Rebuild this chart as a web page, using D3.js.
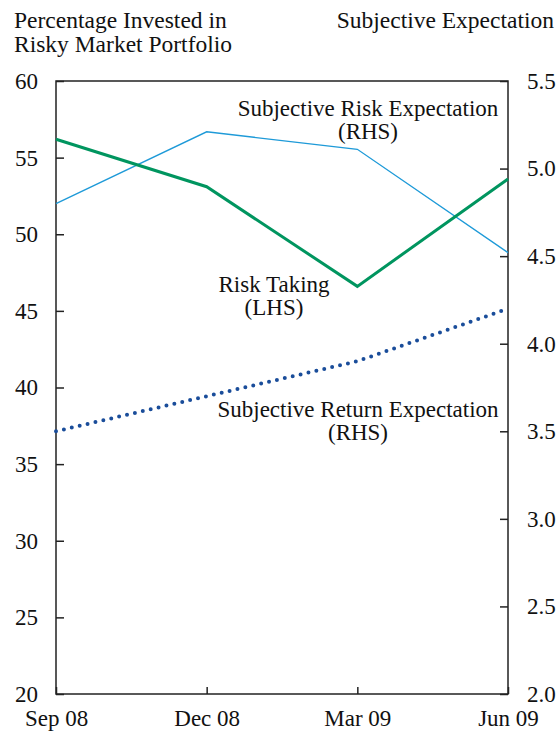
<!DOCTYPE html>
<html>
<head>
<meta charset="utf-8">
<script src="https://cdn.jsdelivr.net/npm/d3@7"></script>
<style>
  body { margin: 0; background: #fff; }
  text { font-family: "Liberation Serif", "Times New Roman", serif; fill: #111; }
</style>
</head>
<body>
<div id="viz-container"></div>
<script>
var margin = {top: 81, right: 48, bottom: 38, left: 56},
    width = 556 - margin.left - margin.right,
    height = 732 - margin.top - margin.bottom;

var quarters = ["Sep 08", "Dec 08", "Mar 09", "Jun 09"];
var riskTaking = [56.2, 53.1, 46.6, 53.6];          // LHS
var riskExpectation = [4.80, 5.21, 5.11, 4.52];     // RHS
var returnExpectation = [3.50, 3.70, 3.90, 4.20];   // RHS
var leftTicks = [20, 25, 30, 35, 40, 45, 50, 55, 60];
var rightTicks = [2.0, 2.5, 3.0, 3.5, 4.0, 4.5, 5.0, 5.5];

var fontSize = 23;
var titleSize = 23.5;

var xScale = d3.scalePoint()
    .domain(quarters)
    .range([0, width]);
var yLeft = d3.scaleLinear()
    .domain([20, 60])
    .range([height, 0]);
var yRight = d3.scaleLinear()
    .domain([2, 5.5])
    .range([height, 0]);

var svg = d3.select("#viz-container")
  .append("svg")
    .attr("width", width + margin.left + margin.right)
    .attr("height", height + margin.top + margin.bottom)
  .append("g")
    .attr("transform", "translate(" + margin.left + "," + margin.top + ")");

// axis titles
svg.append("text")
    .attr("x", 14 - margin.left)
    .attr("y", 28 - margin.top)
    .style("font-size", titleSize + "px")
    .text("Percentage Invested in");
svg.append("text")
    .attr("x", 14 - margin.left)
    .attr("y", 52 - margin.top)
    .style("font-size", titleSize + "px")
    .text("Risky Market Portfolio");
svg.append("text")
    .attr("x", 554 - margin.left)
    .attr("y", 28 - margin.top)
    .attr("text-anchor", "end")
    .style("font-size", titleSize + "px")
    .text("Subjective Expectation");

// frame
svg.append("rect")
    .attr("width", width)
    .attr("height", height)
    .attr("fill", "none")
    .attr("stroke", "#222")
    .attr("stroke-width", 1.5);

var leftAxis = svg.append("g")
    .call(d3.axisLeft(yLeft).tickValues(leftTicks).tickSizeInner(-8).tickSizeOuter(0).tickPadding(18));
var rightAxis = svg.append("g")
    .attr("transform", "translate(" + width + ",0)")
    .call(d3.axisRight(yRight).tickValues(rightTicks).tickSizeInner(-8).tickSizeOuter(0).tickPadding(19)
        .tickFormat(d3.format(".1f")));
var bottomAxis = svg.append("g")
    .attr("transform", "translate(0," + height + ")")
    .call(d3.axisBottom(xScale).tickSizeInner(-7).tickSizeOuter(0).tickPadding(16));

[leftAxis, rightAxis, bottomAxis].forEach(function(ax){
    ax.select(".domain").remove();
    ax.selectAll("line").attr("stroke", "#222").attr("stroke-width", 1.5);
    ax.selectAll("text")
        .style("font-size", fontSize + "px")
        .style("font-family", "Liberation Serif, serif")
        .attr("fill", "#111");
});

// lines
var lineLeft = d3.line()
    .x(function(d, i){ return xScale(quarters[i]); })
    .y(function(d){ return yLeft(d); });
var lineRight = d3.line()
    .x(function(d, i){ return xScale(quarters[i]); })
    .y(function(d){ return yRight(d); });

svg.append("path")
    .datum(riskExpectation)
    .attr("d", lineRight)
    .attr("fill", "none")
    .attr("stroke", "#1e9ad8")
    .attr("stroke-width", 1.3);

svg.append("path")
    .datum(riskTaking)
    .attr("d", lineLeft)
    .attr("fill", "none")
    .attr("stroke", "#00955f")
    .attr("stroke-width", 3);

svg.append("path")
    .datum(returnExpectation)
    .attr("d", lineRight)
    .attr("fill", "none")
    .attr("stroke", "#1a4d9a")
    .attr("stroke-width", 4)
    .attr("stroke-linecap", "round")
    .attr("stroke-dasharray", "0,8.1");

// annotations
var labels = [
    {lines: ["Subjective Risk Expectation", "(RHS)"], x: 368, y: 116},
    {lines: ["Risk Taking", "(LHS)"], x: 274, y: 292},
    {lines: ["Subjective Return Expectation", "(RHS)"], x: 358, y: 417}
];
labels.forEach(function(l){
    l.lines.forEach(function(t, i){
        svg.append("text")
            .attr("x", l.x - margin.left)
            .attr("y", l.y - margin.top + i * 23)
            .attr("text-anchor", "middle")
            .style("font-size", fontSize + "px")
            .text(t);
    });
});
</script>
</body>
</html>
